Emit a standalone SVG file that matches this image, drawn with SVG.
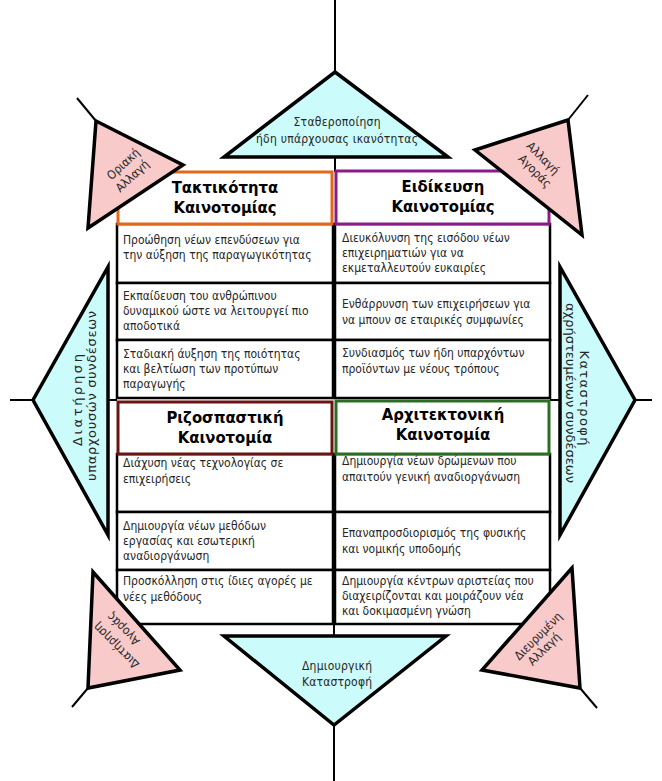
<svg xmlns="http://www.w3.org/2000/svg" width="662" height="781" viewBox="0 0 662 781">
<style>
.bg{fill:#fff}
.cell{fill:#fff;stroke:#000;stroke-width:2.5}
.ax{stroke:#000;stroke-width:2;fill:none}
.cy{fill:#ccfbfb;stroke:#000;stroke-width:3.5;stroke-linejoin:miter}
.pk{fill:#f8caca;stroke:#000;stroke-width:3.5;stroke-linejoin:miter}
.t{font-family:"DejaVu Sans Condensed","DejaVu Sans",sans-serif;font-stretch:condensed;font-size:12px;fill:#262626}
.s{font-family:"DejaVu Sans",sans-serif;font-size:13px;fill:#262626}
.m{text-anchor:middle}
.h{font-family:"DejaVu Sans Condensed","DejaVu Sans",sans-serif;font-stretch:condensed;font-weight:bold;font-size:16.5px;fill:#000;text-anchor:middle}
.hb{fill:#fff;stroke-width:3}
</style>
<rect class="bg" x="0" y="0" width="662" height="781"/>
<g id="connectors">
<line class="ax" x1="335" y1="0" x2="335" y2="72"/>
<line class="ax" x1="335" y1="157" x2="335" y2="172"/>
<line class="ax" x1="334" y1="624" x2="334" y2="636"/>
<line class="ax" x1="334" y1="725" x2="334" y2="781"/>
<line class="ax" x1="10" y1="400" x2="33" y2="400"/>
<line class="ax" x1="108" y1="400" x2="117" y2="400"/>
<line class="ax" x1="550" y1="400" x2="560" y2="400"/>
<line class="ax" x1="635" y1="400" x2="652" y2="400"/>
<line class="ax" x1="77" y1="98" x2="96" y2="121"/>
<line class="ax" x1="588" y1="95" x2="568" y2="120"/>
<line class="ax" x1="88" y1="688" x2="72" y2="707"/>
<line class="ax" x1="580" y1="688" x2="597" y2="708"/>
</g>
<g id="cells-left">
<rect class="cell" x="117" y="224" width="216" height="59"/>
<rect class="cell" x="117" y="283" width="216" height="57"/>
<rect class="cell" x="117" y="340" width="216" height="58"/>
<rect class="cell" x="117" y="454" width="216" height="58"/>
<rect class="cell" x="117" y="512" width="216" height="58"/>
<rect class="cell" x="117" y="570" width="216" height="54"/>
<text class="t" x="123" y="244">Προώθηση νέων επενδύσεων για</text>
<text class="t" x="123" y="259">την αύξηση της παραγωγικότητας</text>
<text class="t" x="123" y="300">Εκπαίδευση του ανθρώπινου</text>
<text class="t" x="123" y="315">δυναμικού ώστε να λειτουργεί πιο</text>
<text class="t" x="123" y="330">αποδοτικά</text>
<text class="t" x="123" y="358">Σταδιακή άυξηση της ποιότητας</text>
<text class="t" x="123" y="373">και βελτίωση των προτύπων</text>
<text class="t" x="123" y="388">παραγωγής</text>
<text class="t" x="123" y="467">Διάχυση νέας τεχνολογίας σε</text>
<text class="t" x="123" y="483">επιχειρήσεις</text>
<text class="t" x="123" y="530">Δημιουργία νέων μεθόδων</text>
<text class="t" x="123" y="545">εργασίας και εσωτερική</text>
<text class="t" x="123" y="560">αναδιοργάνωση</text>
<text class="t" x="123" y="585">Προσκόλληση στις ίδιες αγορές με</text>
<text class="t" x="123" y="601">νέες μεθόδους</text>
</g>
<g id="cells-right">
<rect class="cell" x="335" y="224" width="215" height="59"/>
<rect class="cell" x="335" y="283" width="215" height="57"/>
<rect class="cell" x="335" y="340" width="215" height="58"/>
<rect class="cell" x="335" y="454" width="215" height="58"/>
<rect class="cell" x="335" y="512" width="215" height="58"/>
<rect class="cell" x="335" y="570" width="215" height="54"/>
<text class="t" x="342" y="242">Διευκόλυνση της εισόδου νέων</text>
<text class="t" x="342" y="257">επιχειρηματιών για να</text>
<text class="t" x="342" y="272">εκμεταλλευτούν ευκαιρίες</text>
<text class="t" x="342" y="308">Ενθάρρυνση των επιχειρήσεων για</text>
<text class="t" x="342" y="324">να μπουν σε εταιρικές συμφωνίες</text>
<text class="t" x="342" y="357">Συνδιασμός των ήδη υπαρχόντων</text>
<text class="t" x="342" y="373">προϊόντων με νέους τρόπους</text>
<text class="t" x="342" y="465">Δημιουργία νέων δρώμενων που</text>
<text class="t" x="342" y="481">απαιτούν γενική αναδιοργάνωση</text>
<text class="t" x="342" y="537">Επαναπροσδιορισμός της φυσικής</text>
<text class="t" x="342" y="553">και νομικής υποδομής</text>
<text class="t" x="342" y="585">Δημιουργία κέντρων αριστείας που</text>
<text class="t" x="342" y="600">διαχειρίζονται και μοιράζουν νέα</text>
<text class="t" x="342" y="615">και δοκιμασμένη γνώση</text>
</g>
<g id="header-tactical">
<rect class="hb" x="118" y="172" width="214" height="52" stroke="#e2691c"/>
<text class="h" x="225" y="193">Τακτικότητα</text>
<text class="h" x="225" y="213">Καινοτομίας</text>
</g>
<g id="header-niche">
<rect class="hb" x="336" y="171" width="213" height="53" stroke="#8a1c8a"/>
<text class="h" x="443" y="192">Ειδίκευση</text>
<text class="h" x="443" y="212">Καινοτομίας</text>
</g>
<g id="header-radical">
<rect class="hb" x="118" y="402" width="214" height="52" stroke="#6b1414"/>
<text class="h" x="225" y="423">Ριζοσπαστική</text>
<text class="h" x="225" y="443">Καινοτομία</text>
</g>
<g id="header-architectural">
<rect class="hb" x="336" y="401" width="213" height="53" stroke="#2b6d22"/>
<text class="h" x="443" y="420">Αρχιτεκτονική</text>
<text class="h" x="443" y="440">Καινοτομία</text>
</g>
<g id="tri-top">
<polygon class="cy" points="335,72 448,157 224,157"/>
<text class="t m" x="337" y="126" textLength="87" lengthAdjust="spacing">Σταθεροποίηση</text>
<text class="t m" x="337" y="143" textLength="162" lengthAdjust="spacing">ήδη υπάρχουσας ικανότητας</text>
</g>
<g id="tri-bottom">
<polygon class="cy" points="224,636 446,636 334,725"/>
<text class="t m" x="337" y="670" textLength="70" lengthAdjust="spacing">Δημιουργική</text>
<text class="t m" x="337" y="686" textLength="70" lengthAdjust="spacing">Καταστροφή</text>
</g>
<g id="tri-left">
<polygon class="cy" points="108,267 108,535 33,400"/>
<g transform="translate(0,400) rotate(-90)">
<text class="s m" x="0" y="82" textLength="92" lengthAdjust="spacing">Διατήρηση</text>
<text class="s m" x="4" y="96" textLength="170" lengthAdjust="spacing">υπαρχουσών συνδέσεων</text>
</g>
</g>
<g id="tri-right">
<polygon class="cy" points="560,267 560,535 635,400"/>
<g transform="translate(580,400) rotate(90)">
<text class="s m" x="-2" y="0" textLength="95" lengthAdjust="spacing">Καταστροφή</text>
<text class="s m" x="-7" y="14" textLength="180" lengthAdjust="spacing">αχρήστευμένων συνδέσεων</text>
</g>
</g>
<g id="corner-tl">
<polygon class="pk" points="96,121 183,165 88,228"/>
<text class="t m" transform="translate(126,167) rotate(-43)">Οριακή</text>
<text class="t m" transform="translate(135,179) rotate(-43)">Αλλαγή</text>
</g>
<g id="corner-tr">
<polygon class="pk" points="568,120 475,150 582,235"/>
<text class="t m" transform="translate(540,161) rotate(45)">Αλλαγή</text>
<text class="t m" transform="translate(532,174) rotate(45)">Αγοράς</text>
</g>
<g id="corner-bl">
<polygon class="pk" points="93,572 180,670 88,688"/>
<text class="t m" transform="translate(119,643) rotate(-135)">Διατήρηση</text>
<text class="t m" transform="translate(126,626) rotate(-135)">Αγοράς</text>
</g>
<g id="corner-br">
<polygon class="pk" points="572,568 482,670 580,688"/>
<text class="t m" transform="translate(541,639) rotate(-45)">Διευρυμένη</text>
<text class="t m" transform="translate(547,652) rotate(-45)">Αλλαγή</text>
</g>
</svg>
